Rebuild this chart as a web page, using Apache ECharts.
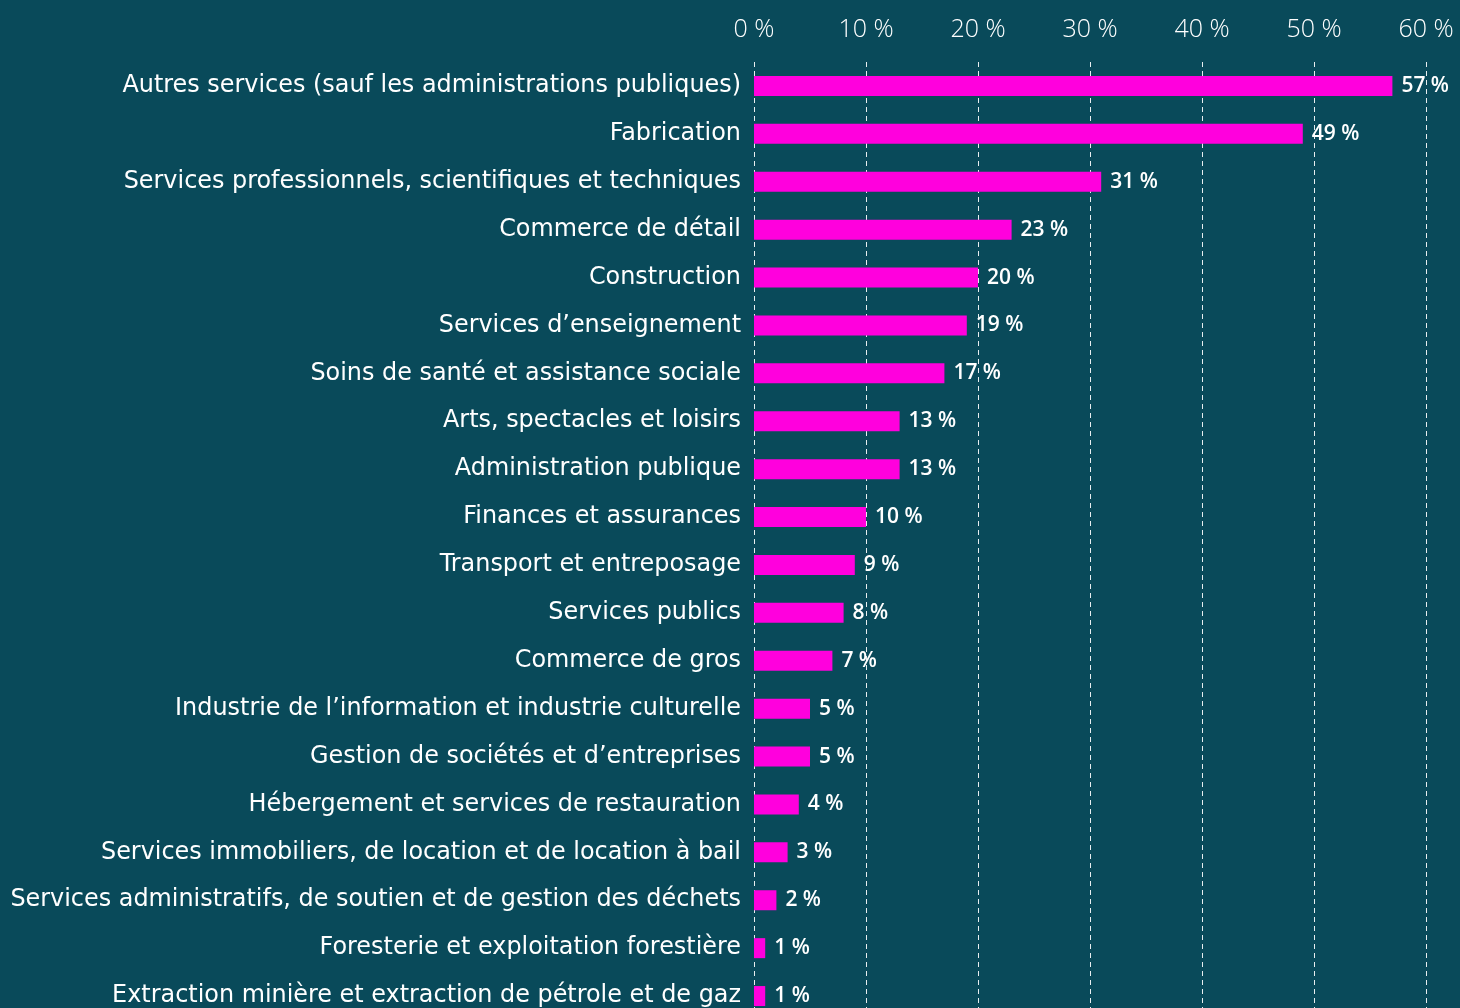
<!DOCTYPE html>
<html>
<head>
<meta charset="utf-8">
<script src="https://cdn.jsdelivr.net/npm/echarts@6/dist/echarts.min.js"></script>
<style>
	html, body { margin: 0; padding: 0; background: #094a5a; overflow: hidden; }
	#chart { width: 1460px; height: 1040px; }
</style>
</head>
<body>
<div id="chart"></div>
<script type="text/javascript">
	// secteurs, du plus haut au plus bas
	var categories = [
		'Autres services (sauf les administrations publiques)',
		'Fabrication',
		'Services professionnels, scientifiques et techniques',
		'Commerce de détail',
		'Construction',
		'Services d\u2019enseignement',
		'Soins de santé et assistance sociale',
		'Arts, spectacles et loisirs',
		'Administration publique',
		'Finances et assurances',
		'Transport et entreposage',
		'Services publics',
		'Commerce de gros',
		'Industrie de l\u2019information et industrie culturelle',
		'Gestion de sociétés et d\u2019entreprises',
		'Hébergement et services de restauration',
		'Services immobiliers, de location et de location à bail',
		'Services administratifs, de soutien et de gestion des déchets',
		'Foresterie et exploitation forestière',
		'Extraction minière et extraction de pétrole et de gaz'
	];
	var values = [57, 49, 31, 23, 20, 19, 17, 13, 13, 10, 9, 8, 7, 5, 5, 4, 3, 2, 1, 1];
	var tickMax = 60;
	var tickStep = 10;

	var myChart = echarts.init(document.getElementById('chart'));
	var option = {
		backgroundColor: '#094a5a',
		animation: false,
		grid: {
			left: 754,
			right: 34,
			top: 62,
			height: 958,
			containLabel: false
		},
		xAxis: {
			type: 'value',
			position: 'top',
			min: 0,
			max: tickMax,
			interval: tickStep,
			axisLine: { show: false },
			axisTick: { show: false },
			axisLabel: {
				color: '#ffffff',
				fontFamily: 'Open Sans',
				fontWeight: 300,
				fontSize: 25,
				margin: 20,
				formatter: '{value} %'
			},
			splitLine: {
				show: true,
				lineStyle: { color: '#e8eef0', type: [5, 4], width: 1 }
			}
		},
		yAxis: {
			type: 'category',
			inverse: true,
			data: categories,
			axisLine: { show: false },
			axisTick: { show: false },
			axisLabel: {
				color: '#ffffff',
				fontFamily: 'DejaVu Sans',
				fontSize: 23.9,
				margin: 13
			}
		},
		series: [
			{
				type: 'bar',
				data: values,
				barWidth: 20,
				itemStyle: { color: '#ff00dd' },
				label: {
					show: true,
					position: 'right',
					distance: 9,
					color: '#ffffff',
					fontFamily: 'Open Sans',
					fontWeight: 600,
					fontSize: 21,
					formatter: '{c} %'
				}
			}
		]
	};
	myChart.setOption(option);
</script>
</body>
</html>
